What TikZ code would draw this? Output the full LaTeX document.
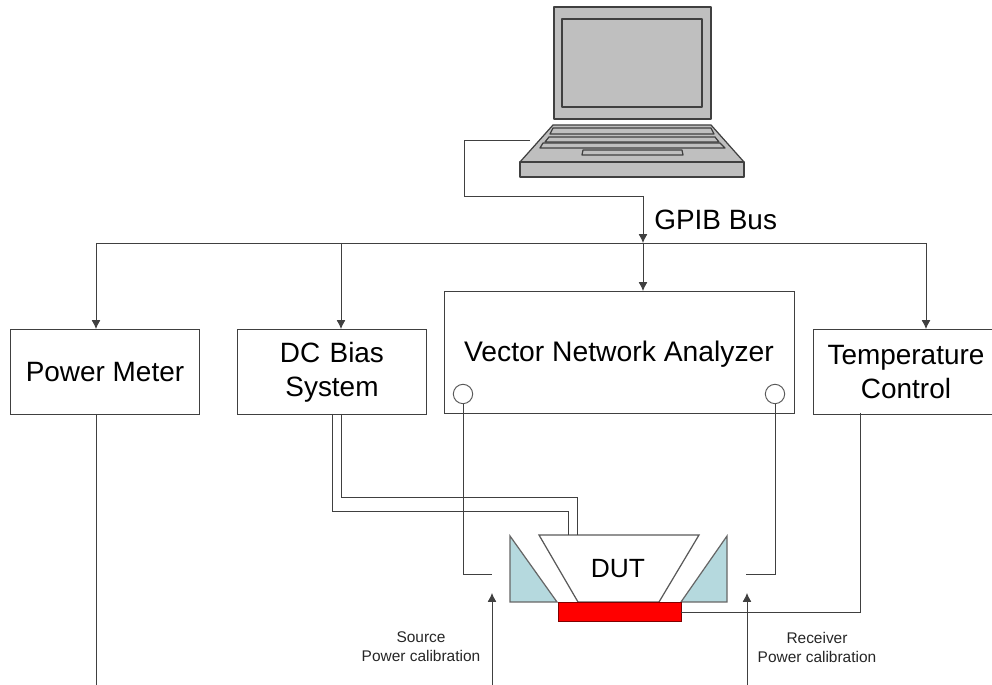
\documentclass[tikz,border=0pt]{standalone}
\usepackage{fontspec}
\setmainfont{Liberation Sans}
\usetikzlibrary{arrows.meta}
\definecolor{probeblue}{HTML}{B5D9DE}
\tikzset{
	instr/.style = {draw=black!75, line width=0.55pt, anchor=north west, inner sep=0pt, align=center, font=\fontsize{15.9}{19.3}\selectfont},
	port/.style = {draw=black!65, circle, line width=0.55pt, minimum size=11pt, inner sep=0pt},
	wire/.style = {line width=0.5pt, color=black!75},
	feed/.style = {wire, -{Latex[length=5pt, width=5pt]}},
	note/.style = {align=center, color=black!85, font=\fontsize{8.8}{10.8}\selectfont},
	case/.style = {draw=black!75, fill=black!25, line width=0.7pt, line join=round},
}
\begin{document}
\begin{tikzpicture}[x=0.02cm, y=-0.02cm]
	\useasboundingbox (0,0) rectangle (992,685);
	
	% laptop
	\draw[case] (554,7) rectangle (711,119);
	\draw[case] (562,19) rectangle (702,107);
	\draw[case] (553,125) -- (711,125) -- (744,162) -- (520,162) -- cycle;
	\draw[case] (520,162) rectangle (744,177);
	\draw[case] (553,128) -- (711,128) -- (714,134) -- (550,134) -- cycle;
	\draw[case] (549,137) -- (715,137) -- (719,142) -- (545,142) -- cycle;
	\draw[case] (543,143) -- (720,143) -- (725,148) -- (540,148) -- cycle;
	\draw[case] (583,150) -- (682,150) -- (683,155) -- (582,155) -- cycle;
	
	% instruments
	\node[instr, minimum width=189*0.02cm, minimum height=85*0.02cm] (meter) at (10,329) {Power Meter};
	\node[instr, minimum width=189*0.02cm, minimum height=85*0.02cm, text width=186*0.02cm] (bias) at (237,329) {DC Bias\\System};
	\node[instr, minimum width=350*0.02cm, minimum height=122*0.02cm] (vna) at (444,291) {};
	\node[font=\fontsize{16.1}{19.3}\selectfont] (vnatext) at (619,354) {Vector Network Analyzer};
	\node[instr, minimum width=185*0.02cm, minimum height=85*0.02cm, text width=184*0.02cm] (temp) at (813,329) {Temperature\\Control};
	\node[port] (portl) at (463,394) {};
	\node[port] (portr) at (775,394) {};
	
	% probe station
	\draw[draw=black!60, fill=probeblue, line width=0.7pt] (510,536) -- (510,602) -- (557,602) -- cycle;
	\draw[draw=black!60, fill=probeblue, line width=0.7pt] (727,536) -- (727,602) -- (681,602) -- cycle;
	\draw[draw=black!65, line width=0.7pt] (539,535) -- (699,535) -- (659,602) -- (578,602) -- cycle;
	\node[font=\fontsize{15}{18}\selectfont] (dut) at (618,569) {DUT};
	\node[draw=black!50!red, fill=red, line width=0.4pt, minimum width=123*0.02cm, minimum height=19*0.02cm, inner sep=0pt] (chuck) at (619.5,611.5) {};
	
	\coordinate (pcout) at (530,140);
	\coordinate (pcin) at (464,140);
	\coordinate (pcdown) at (464,196);
	\coordinate (drop) at (643,196);
	\coordinate (busl) at (96,243);
	\coordinate (busr) at (926,243);
	\coordinate (junction) at (643,243);
	\coordinate (srcend) at (492,574);
	\coordinate (rcvend) at (746,574);
	\coordinate (srcfoot) at (492,685);
	\coordinate (rcvfoot) at (747,685);
	\coordinate (srctip) at (492,593);
	\coordinate (rcvtip) at (747,593);
	
	% GPIB bus
	\draw[wire] (pcout) -- (pcin) -- (pcdown) -- (drop);
	\draw[feed] (drop) -- (junction);
	\draw[wire] (busl) -- (busr);
	\draw[feed] (busl) -- (96,329);
	\draw[feed] (341,243) -- (341,329);
	\draw[feed] (junction) -- (643,291);
	\draw[feed] (busr) -- (926,329);
	\node[anchor=west, inner sep=0pt, font=\fontsize{15.9}{19}\selectfont] (gpib) at (654,220) {GPIB Bus};
	
	% cables
	\draw[wire] (96,414) -- (96,685);
	\draw[wire] (332,414) -- (332,511) -- (568,511) -- (568,535);
	\draw[wire] (341,414) -- (341,497) -- (577,497) -- (577,535);
	\draw[wire] (portl.south) |- (srcend);
	\draw[wire] (portr.south) |- (rcvend);
	\draw[wire] (860,413) |- (chuck.east |- 0,612);
	\draw[feed] (srcfoot) -- (srctip);
	\draw[feed] (rcvfoot) -- (rcvtip);
	
	\node[note] (srcnote) at (421,647) {Source\\Power calibration};
	\node[note] (rcvnote) at (817,647) {Receiver\\Power calibration};
	
\end{tikzpicture}
\end{document}
